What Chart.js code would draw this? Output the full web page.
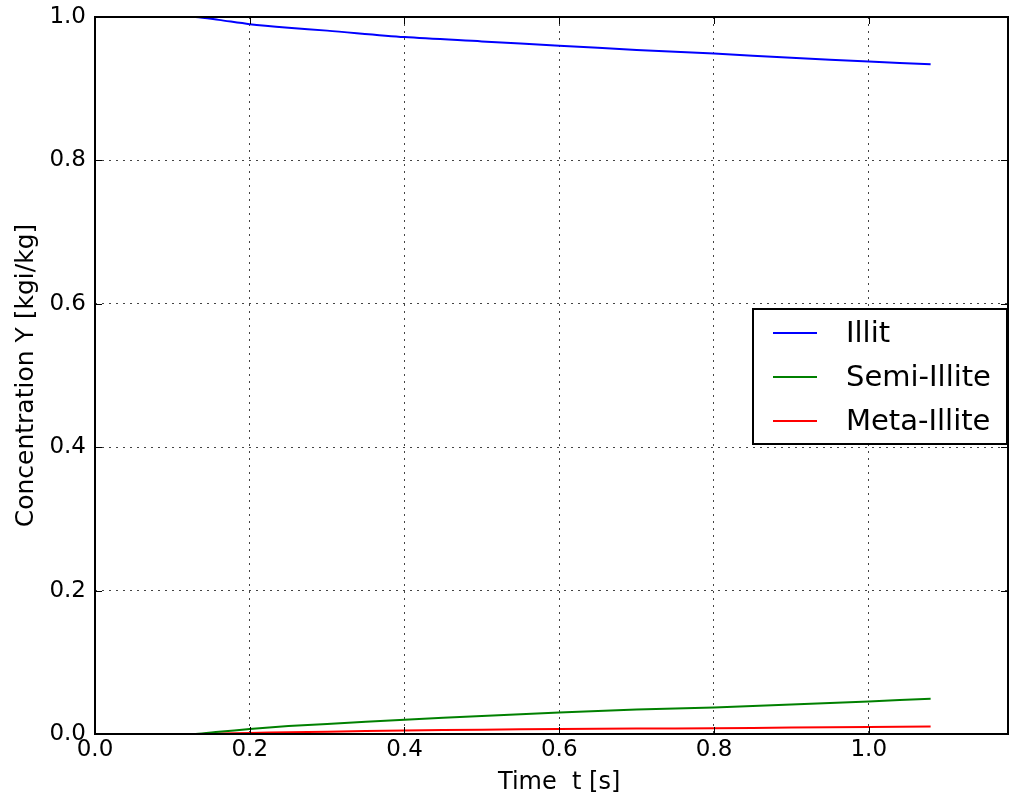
<!DOCTYPE html>
<html>
<head>
<meta charset="utf-8">
<script src="https://cdn.jsdelivr.net/npm/chart.js@4"></script>
<style>
  html, body { margin: 0; padding: 0; background: #fff; }
  #wrap { width: 1010px; height: 797px; }
</style>
</head>
<body>
<div id="wrap"><canvas id="myChart" width="1010" height="797"></canvas></div>
<script>
// time points [s]
const time = [0, 0.05, 0.1, 0.13, 0.16, 0.2, 0.25, 0.3, 0.4, 0.5, 0.6, 0.7, 0.8, 0.9, 1.0, 1.08];
const illit = [1, 1, 1, 1, 0.996, 0.990, 0.985, 0.981, 0.972, 0.966, 0.960, 0.954, 0.949, 0.943, 0.938, 0.934];
const semiIllite = [0, 0, 0, 0, 0.003, 0.007, 0.011, 0.014, 0.020, 0.025, 0.030, 0.034, 0.037, 0.041, 0.0455, 0.049];
const metaIllite = [0, 0, 0, 0, 0.0007, 0.0015, 0.0025, 0.0033, 0.005, 0.006, 0.007, 0.0075, 0.008, 0.009, 0.0098, 0.0105];
const seriesLabels = ['Illit', 'Semi-Illite', 'Meta-Illite'];
const seriesColors = ['#0000ff', '#008000', '#ff0000'];

const FONT = "'DejaVu Sans', sans-serif";

function toPoints(ys) {
    return time.map((t, i) => ({x: t, y: ys[i]}));
}

// frame, inward ticks and legend box
const framePlugin = {
    id: 'frame',
    afterDraw(chart) {
        const ctx = chart.ctx;
        const a = chart.chartArea;
        const xs = chart.scales.x, ys = chart.scales.y;
        ctx.save();
        ctx.strokeStyle = '#000';
        ctx.lineWidth = 1;
        ctx.beginPath();
        xs.ticks.forEach(t => {
            const px = Math.round(xs.getPixelForValue(t.value)) + 0.5;
            ctx.moveTo(px, a.bottom); ctx.lineTo(px, a.bottom - 7);
            ctx.moveTo(px, a.top); ctx.lineTo(px, a.top + 7);
        });
        ys.ticks.forEach(t => {
            const py = Math.round(ys.getPixelForValue(t.value)) + 0.5;
            ctx.moveTo(a.left, py); ctx.lineTo(a.left + 7, py);
            ctx.moveTo(a.right, py); ctx.lineTo(a.right - 7, py);
        });
        ctx.stroke();
        ctx.lineWidth = 2;
        ctx.strokeRect(a.left, a.top, a.right - a.left, a.bottom - a.top);

        // legend
        const lx = 753, ly = 309, lw = 254, lh = 135;
        ctx.fillStyle = '#fff';
        ctx.fillRect(lx, ly, lw, lh);
        ctx.lineWidth = 2;
        ctx.strokeRect(lx, ly, lw, lh);
        ctx.font = '29px ' + FONT;
        ctx.textBaseline = 'middle';
        chart.data.datasets.forEach((ds, i) => {
            const y = ly + 24 + i * 44;
            ctx.strokeStyle = ds.borderColor;
            ctx.lineWidth = 2;
            ctx.beginPath();
            ctx.moveTo(773, y); ctx.lineTo(817, y);
            ctx.stroke();
            ctx.fillStyle = '#000';
            ctx.fillText(ds.label, 846, y + 1);
        });
        ctx.restore();
    }
};

new Chart(document.getElementById('myChart'), {
    type: 'line',
    data: {
        datasets: [
            {label: seriesLabels[0], data: toPoints(illit), borderColor: seriesColors[0]},
            {label: seriesLabels[1], data: toPoints(semiIllite), borderColor: seriesColors[1]},
            {label: seriesLabels[2], data: toPoints(metaIllite), borderColor: seriesColors[2]},
        ].map(d => Object.assign(d, {borderWidth: 2, pointRadius: 0, tension: 0.3, fill: false, clip: false}))
    },
    options: {
        responsive: false,
        animation: false,
        layout: {padding: {top: 17, right: 2, left: 0, bottom: 0}},
        plugins: {legend: {display: false}, tooltip: {enabled: false}},
        scales: {
            x: {
                type: 'linear',
                min: 0, max: 1.18,
                afterBuildTicks: s => { s.ticks = s.ticks.filter(t => t.value <= 1.0001); },
                afterFit: s => { s.height = 63; s.paddingLeft = 0; s.paddingRight = 0; },
                ticks: {
                    stepSize: 0.2,
                    color: '#000',
                    font: {family: FONT, size: 23},
                    padding: 2,
                    callback: v => v.toFixed(1)
                },
                grid: {color: '#444', lineWidth: 1, drawTicks: false},
                border: {display: false, dash: [2, 5]},
                title: {display: true, text: '  Time  t [s]', color: '#000', font: {family: FONT, size: 24}, padding: 0}
            },
            y: {
                min: 0, max: 1,
                afterFit: s => { s.width = 95; s.paddingTop = 0; s.paddingBottom = 0; },
                ticks: {
                    stepSize: 0.2,
                    color: '#000',
                    font: {family: FONT, size: 23},
                    padding: 9,
                    callback: v => v.toFixed(1)
                },
                grid: {color: '#444', lineWidth: 1, drawTicks: false},
                border: {display: false, dash: [2, 5]},
                title: {display: true, text: 'Concentration Y [kgi/kg]', color: '#000', font: {family: FONT, size: 25}, padding: {top: 11, bottom: 0}}
            }
        }
    },
    plugins: [framePlugin]
});
</script>
</body>
</html>
